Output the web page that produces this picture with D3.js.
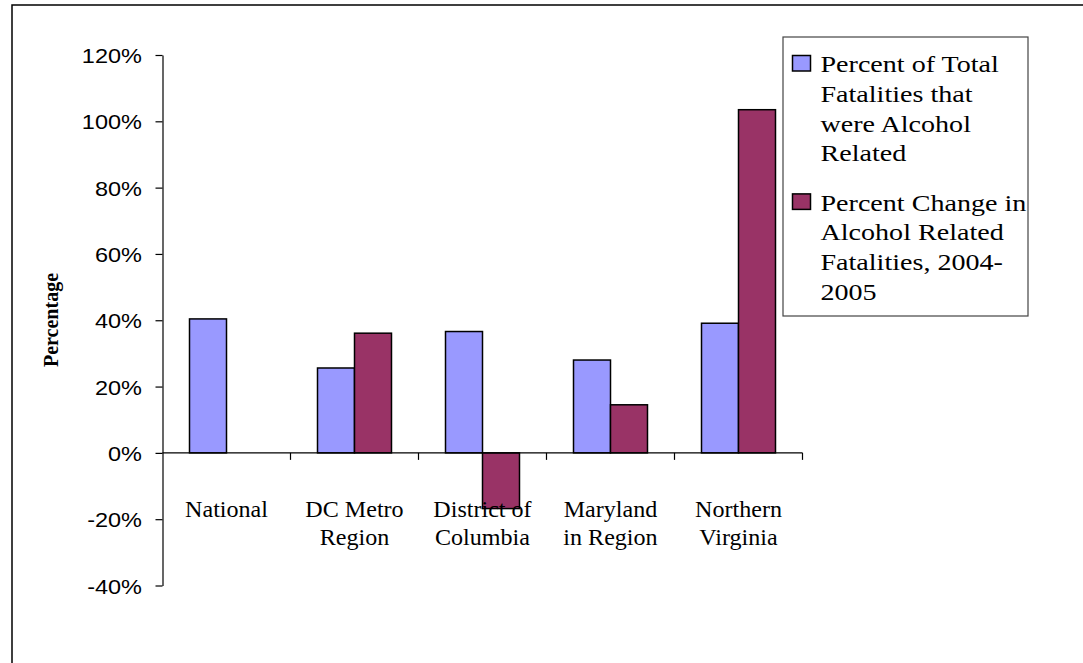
<!DOCTYPE html>
<html>
<head>
<meta charset="utf-8">
<script src="https://cdn.jsdelivr.net/npm/d3@7"></script>
<style>
  html, body { margin: 0; padding: 0; background: #fff; }
  svg { display: block; }
</style>
</head>
<body>
<svg id="chart" width="1083" height="663"></svg>
<script>
// ---- data ----
const categories = [["National"], ["DC Metro", "Region"], ["District of", "Columbia"], ["Maryland", "in Region"], ["Northern", "Virginia"]];
const categoryKeys = ["National", "DC Metro Region", "District of Columbia", "Maryland in Region", "Northern Virginia"];
const seriesNames = ["Percent of Total Fatalities that were Alcohol Related", "Percent Change in Alcohol Related Fatalities, 2004-2005"];
const legendLines = [["Percent of Total", "Fatalities that", "were Alcohol", "Related"], ["Percent Change in", "Alcohol Related", "Fatalities, 2004-", "2005"]];
const pctAlcoholRelated = [0.404, 0.256, 0.366, 0.280, 0.391];
const pctChange = [null, 0.361, -0.168, 0.145, 1.035];
const yTicks = [-0.4, -0.2, 0, 0.2, 0.4, 0.6, 0.8, 1.0, 1.2];
const yTickLabels = ["-40%", "-20%", "0%", "20%", "40%", "60%", "80%", "100%", "120%"];
const seriesColors = ["#9999FF", "#993366"];

const svg = d3.select("#chart");

// outer frame
svg.append("rect").attr("x", 12).attr("y", 5).attr("width", 1200).attr("height", 800)
  .attr("fill", "none").attr("stroke", "#000").attr("stroke-width", 1.5);

const y = d3.scaleLinear().domain([-0.4, 1.2]).range([585.5, 55]);
const x0 = d3.scaleBand().domain(categoryKeys).range([162.5, 802.5]).paddingInner(0).paddingOuter(0);
const x1 = d3.scaleBand().domain([0, 1]).range([0, x0.bandwidth()]).paddingInner(0).paddingOuter(0.73);

// category labels (drawn before bars? text sits on top of bars in ref, so draw later)
// bars
const rows = categoryKeys.map((k, i) => ({ key: k, vals: [pctAlcoholRelated[i], pctChange[i]] }));
const gBars = svg.append("g");
rows.forEach(r => {
  r.vals.forEach((v, s) => {
    if (v === null) return;
    gBars.append("rect")
      .attr("x", x0(r.key) + x1(s))
      .attr("width", x1.bandwidth())
      .attr("y", Math.min(y(v), y(0)))
      .attr("height", Math.abs(y(v) - y(0)))
      .attr("fill", seriesColors[s])
      .attr("stroke", "#000").attr("stroke-width", 1.5);
  });
});

// y axis
const yAxis = d3.axisLeft(y).tickValues(yTicks).tickSize(7).tickSizeOuter(0)
  .tickFormat((d, i) => yTickLabels[i]);
const gy = svg.append("g").attr("transform", "translate(162.5,0)").call(yAxis);
gy.select(".domain").attr("stroke", "#000").attr("stroke-width", 1.2);
gy.selectAll(".tick line").attr("stroke", "#000").attr("stroke-width", 1.2);
gy.selectAll(".tick text")
  .attr("x", null).attr("dy", null)
  .attr("transform", "translate(-20.5,7.5) scale(1.12,1)")
  .attr("text-anchor", "end")
  .attr("font-family", "'Liberation Sans', Arial, sans-serif")
  .attr("font-size", 21).attr("fill", "#000");

// x axis line at zero
const bounds = categoryKeys.map(k => x0(k)).concat([x0.range()[1]]);
svg.append("line").attr("x1", x0.range()[0]).attr("x2", x0.range()[1])
  .attr("y1", y(0)).attr("y2", y(0)).attr("stroke", "#000").attr("stroke-width", 1.2);
svg.selectAll(".xtick").data(bounds.slice(1)).enter().append("line")
  .attr("x1", d => d).attr("x2", d => d)
  .attr("y1", y(0)).attr("y2", y(0) + 7)
  .attr("stroke", "#000").attr("stroke-width", 1.2);

// category labels
categoryKeys.forEach((k, i) => {
  const cx = x0(k) + x0.bandwidth() / 2;
  categories[i].forEach((line, j) => {
    svg.append("text")
      .attr("transform", `translate(${cx},${517 + j * 27.5}) scale(1.07,1)`)
      .attr("text-anchor", "middle")
      .attr("font-family", "'Liberation Serif', 'Times New Roman', serif")
      .attr("font-size", 22.5).attr("fill", "#000")
      .text(line);
  });
});

// y title
svg.append("text")
  .attr("transform", "translate(57.5,320) rotate(-90)")
  .attr("text-anchor", "middle")
  .attr("font-family", "'Liberation Serif', 'Times New Roman', serif")
  .attr("font-weight", "bold")
  .attr("font-size", 20).attr("fill", "#000")
  .text("Percentage");

// legend
svg.append("rect").attr("x", 783).attr("y", 37).attr("width", 245).attr("height", 279)
  .attr("fill", "#fff").attr("stroke", "#444").attr("stroke-width", 1.2);
const legendStarts = [72.3, 210.7];
seriesNames.forEach((name, s) => {
  svg.append("rect").attr("x", 792.5).attr("y", legendStarts[s] - 16.8)
    .attr("width", 18).attr("height", 15.5)
    .attr("fill", seriesColors[s]).attr("stroke", "#000").attr("stroke-width", 1.5);
  legendLines[s].forEach((line, j) => {
    svg.append("text")
      .attr("transform", `translate(820.5,${legendStarts[s] + j * 29.6}) scale(1.17,1)`)
      .attr("font-family", "'Liberation Serif', 'Times New Roman', serif")
      .attr("font-size", 24).attr("fill", "#000")
      .text(line);
  });
});
</script>
</body>
</html>
